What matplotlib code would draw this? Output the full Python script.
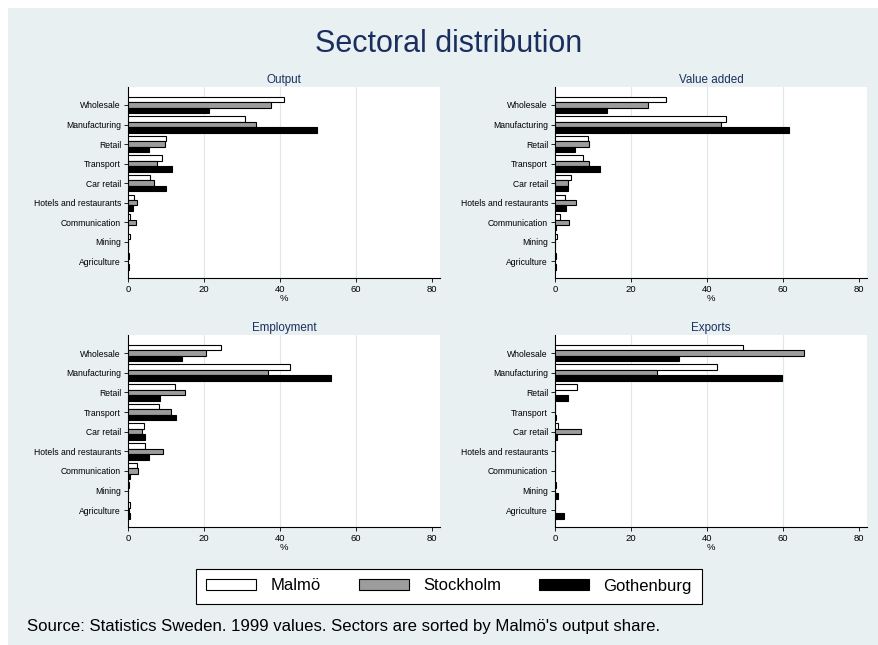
import numpy as np
import matplotlib
matplotlib.use('Agg')
import matplotlib.pyplot as plt
from matplotlib.patches import Patch, Rectangle

plt.rcParams['font.family'] = ['Liberation Sans', 'DejaVu Sans']

sectors = ['Wholesale', 'Manufacturing', 'Retail', 'Transport', 'Car retail',
           'Hotels and restaurants', 'Communication', 'Mining', 'Agriculture']
cities = ['Malmö', 'Stockholm', 'Gothenburg']

# shares in %, one list per city and measure, in sector order
output_malmo = [41.0, 30.9, 10.1, 8.9, 5.9, 1.6, 0.5, 0.4, 0.3]
output_sthlm = [37.5, 33.6, 9.7, 7.5, 6.8, 2.4, 2.0, 0.05, 0.1]
output_gbg = [21.3, 49.8, 5.4, 11.6, 10.1, 1.2, 0.1, 0.1, 0.3]

va_malmo = [29.3, 44.9, 8.6, 7.3, 4.1, 2.5, 1.3, 0.6, 0.3]
va_sthlm = [24.6, 43.7, 8.9, 8.9, 3.3, 5.5, 3.7, 0.1, 0.1]
va_gbg = [13.8, 61.6, 5.3, 11.9, 3.5, 2.8, 0.2, 0.0, 0.2]

emp_malmo = [24.6, 42.5, 12.4, 8.2, 4.2, 4.4, 2.4, 0.3, 0.5]
emp_sthlm = [20.4, 36.9, 14.9, 11.4, 3.7, 9.3, 2.7, 0.05, 0.3]
emp_gbg = [14.1, 53.3, 8.5, 12.7, 4.5, 5.5, 0.4, 0.05, 0.6]

exp_malmo = [49.6, 42.5, 5.9, 0.0, 0.7, 0.0, 0.0, 0.3, 0.0]
exp_sthlm = [65.4, 26.9, 0.0, 0.0, 6.8, 0.0, 0.0, 0.0, 0.0]
exp_gbg = [32.5, 59.8, 3.5, 0.3, 0.4, 0.0, 0.0, 0.8, 2.3]

panels = [
    ('Output', [output_malmo, output_sthlm, output_gbg]),
    ('Value added', [va_malmo, va_sthlm, va_gbg]),
    ('Employment', [emp_malmo, emp_sthlm, emp_gbg]),
    ('Exports', [exp_malmo, exp_sthlm, exp_gbg]),
]

bg = '#E8F0F2'
navy = '#1A2F5E'
grid_col = '#DCE8EC'
bar_colors = ['white', '#9C9C9C', 'black']

W, H = 879, 645
fig = plt.figure(figsize=(W / 100, H / 100), dpi=100)
fig.patch.set_facecolor(bg)
# thin white strip along top and left edge, as in the exported graph
fig.patches.append(Rectangle((0, 1 - 8 / H), 1, 8 / H, transform=fig.transFigure,
                             facecolor='white', edgecolor='none', zorder=-10))
fig.patches.append(Rectangle((0, 0), 8 / W, 1, transform=fig.transFigure,
                             facecolor='white', edgecolor='none', zorder=-10))

# panel boxes in pixels: left, top, right, bottom
boxes = [(128, 87, 440, 278), (555, 87, 867, 278),
         (128, 335, 440, 527), (555, 335, 867, 527)]

y = np.arange(len(sectors))
h = 0.28
for (title, series), (x0, y0, x1, y1) in zip(panels, boxes):
    ax = fig.add_axes([x0 / W, 1 - y1 / H, (x1 - x0) / W, (y1 - y0) / H])
    ax.set_facecolor('white')
    for k, vals in enumerate(series):
        ax.barh(y + (k - 1) * h, vals, height=h, color=bar_colors[k],
                edgecolor='black', linewidth=0.8, zorder=3)
    ax.set_xlim(0, 82.1)
    ax.set_ylim(8.85, -0.92)
    ax.set_xticks([0, 20, 40, 60, 80])
    ax.set_yticks(y)
    ax.set_yticklabels(sectors, fontsize=6.2)
    ax.tick_params(axis='x', labelsize=6.8, length=3, width=0.6, pad=2)
    ax.tick_params(axis='y', length=3, width=0.6, pad=2)
    for gx in [20, 40, 60]:
        ax.axvline(gx, color=grid_col, linewidth=0.8, zorder=1)
    ax.spines['top'].set_visible(False)
    ax.spines['right'].set_visible(False)
    ax.spines['left'].set_linewidth(0.8)
    ax.spines['bottom'].set_linewidth(0.8)
    ax.set_xlabel('%', fontsize=6.8, labelpad=0)
    ax.set_title(title, fontsize=8.4, color=navy, pad=3)

fig.text(449 / W, 1 - 52 / H, 'Sectoral distribution', ha='center', va='baseline',
         fontsize=22, color=navy)

handles = [Patch(facecolor=c, edgecolor='black', linewidth=0.8, label=n)
           for c, n in zip(bar_colors, cities)]
leg = fig.legend(handles=handles, loc='center', ncol=3,
                 bbox_to_anchor=(449 / W, 1 - 586 / H), fontsize=12,
                 frameon=True, fancybox=False, handlelength=3.0, handleheight=0.6,
                 columnspacing=2.3, handletextpad=0.85, borderpad=0.6)
leg.get_frame().set_edgecolor('black')
leg.get_frame().set_linewidth(0.8)
leg.get_frame().set_alpha(None)
leg.get_frame().set_facecolor('white')

fig.text(27 / W, 1 - 631 / H,
         "Source: Statistics Sweden. 1999 values. Sectors are sorted by Malmö's output share.",
         ha='left', va='baseline', fontsize=12.1)

plt.savefig('out.png', dpi=100, facecolor=fig.get_facecolor())
